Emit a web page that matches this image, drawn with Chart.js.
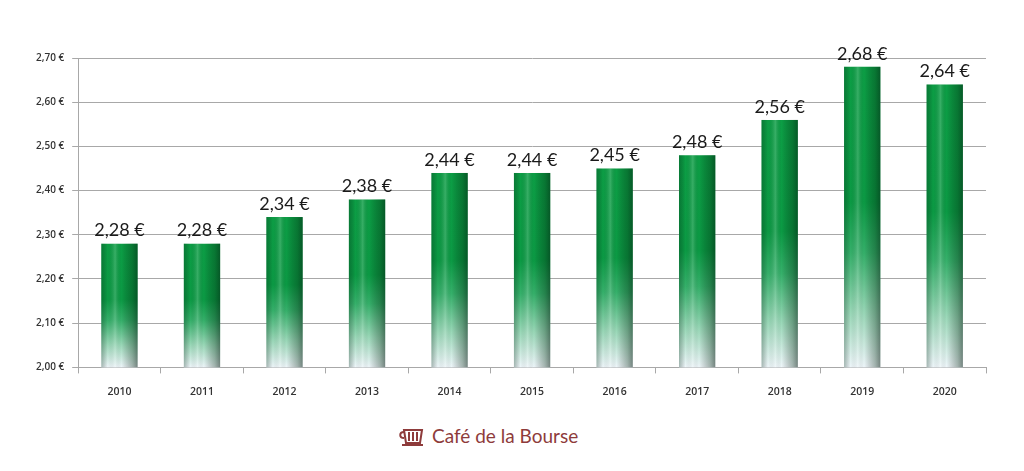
<!DOCTYPE html>
<html>
<head>
<meta charset="utf-8">
<script src="https://cdn.jsdelivr.net/npm/chart.js@4/dist/chart.umd.min.js"></script>
<style>
  html,body{margin:0;padding:0;background:#fff;}
  #wrap{position:relative;width:1024px;height:471px;}
  #c{position:absolute;left:0;top:0;}
  #logo{position:absolute;left:398px;top:424px;display:flex;align-items:center;font-family:Lato,"Open Sans",sans-serif;font-size:19px;color:#8e3b3b;}
  #logo svg{margin-right:8px;}
</style>
</head>
<body>
<div id="wrap">
<canvas id="c" width="1024" height="410"></canvas>
<div id="logo">
<svg width="26" height="20" viewBox="0 0 26 20"><g fill="none" stroke="#8e3b3b" stroke-width="2"><path d="M6 4 H24 L22 17 H8 Z"/><path d="M6 6 C1 6 1 12 6 12"/><line x1="11" y1="6" x2="11" y2="15"/><line x1="15" y1="6" x2="15" y2="15"/><line x1="19" y1="6" x2="19" y2="15"/><line x1="4" y1="19" x2="25" y2="19"/></g></svg>
<span>Café de la Bourse</span>
</div>
</div>
<script>
const categories = ["2010","2011","2012","2013","2014","2015","2016","2017","2018","2019","2020"];
const prices = [2.28, 2.28, 2.34, 2.38, 2.44, 2.44, 2.45, 2.48, 2.56, 2.68, 2.64];
const yTicks = [2.00, 2.10, 2.20, 2.30, 2.40, 2.50, 2.60, 2.70];

function euro(v){ return v.toFixed(2).replace('.', ',') + ' €'; }

function barFill(ctx){
  const chart = ctx.chart;
  const ys = chart.scales.y;
  if(!ys || ctx.dataIndex === undefined) return '#0aa046';
  const v = ctx.raw;
  const top = ys.getPixelForValue(v);
  const base = ys.getPixelForValue(ys.min);
  if(!isFinite(top) || !isFinite(base) || base === top) return '#0aa046';
  const g = chart.ctx.createLinearGradient(0, top, 0, base);
  g.addColorStop(0, '#0c9e45');
  g.addColorStop(0.45, '#0b9a44');
  g.addColorStop(0.62, '#35b06a');
  g.addColorStop(0.82, '#9ad8b8');
  g.addColorStop(1, '#eef6fa');
  return g;
}

const shading = {
  id:'shading',
  afterDatasetsDraw(chart){
    const c = chart.ctx;
    const area = chart.chartArea;
    const meta = chart.getDatasetMeta(0);
    meta.data.forEach((bar, i) => {
      const p = bar.getProps(['x','y','base','width'], true);
      const l = p.x - p.width/2, r = p.x + p.width/2;
      const bottom = Math.min(p.base, area.bottom);
      const g = c.createLinearGradient(l, 0, r, 0);
      g.addColorStop(0, 'rgba(0,40,20,0.30)');
      g.addColorStop(0.18, 'rgba(0,0,0,0.0)');
      g.addColorStop(0.38, 'rgba(255,255,255,0.18)');
      g.addColorStop(0.55, 'rgba(0,0,0,0.0)');
      g.addColorStop(0.85, 'rgba(0,30,10,0.30)');
      g.addColorStop(1, 'rgba(0,20,10,0.50)');
      c.save();
      c.fillStyle = g;
      c.fillRect(l, p.y, p.width, bottom - p.y);
      c.restore();
      c.save();
      c.font = '18px Lato, "Open Sans", sans-serif';
      c.fillStyle = '#1a1a1a';
      c.textAlign = 'center';
      c.textBaseline = 'bottom';
      c.fillText(euro(prices[i]), p.x, p.y - 4);
      c.restore();
    });
  }
};

new Chart(document.getElementById('c'), {
  type:'bar',
  data:{
    labels: categories,
    datasets:[{
      data: prices,
      backgroundColor: barFill,
      borderWidth: 0,
      barPercentage: 0.44,
      categoryPercentage: 1.0
    }]
  },
  options:{
    responsive:false,
    animation:false,
    devicePixelRatio:1,
    layout:{padding:{left:28, right:38, top:58, bottom:0}},
    plugins:{legend:{display:false}, tooltip:{enabled:false}},
    scales:{
      y:{
        min:2.0, max:2.7,
        afterBuildTicks(scale){ scale.ticks = yTicks.map(v => ({value:v})); },
        ticks:{
          callback:(v)=>euro(v),
          font:{family:'"Open Sans", sans-serif', size:10, weight:'600'},
          color:'#333',
          padding:8
        },
        grid:{color:'#a8a8a8', lineWidth:1, tickLength:6, drawTicks:true},
        border:{color:'#a8a8a8'}
      },
      x:{
        ticks:{
          font:{family:'"Open Sans", sans-serif', size:10.5, weight:'600'},
          color:'#333',
          padding:12
        },
        grid:{offset:true, drawOnChartArea:false, color:'#a8a8a8', tickLength:6},
        border:{color:'#a8a8a8'}
      }
    }
  },
  plugins:[shading]
});
</script>
</body>
</html>
